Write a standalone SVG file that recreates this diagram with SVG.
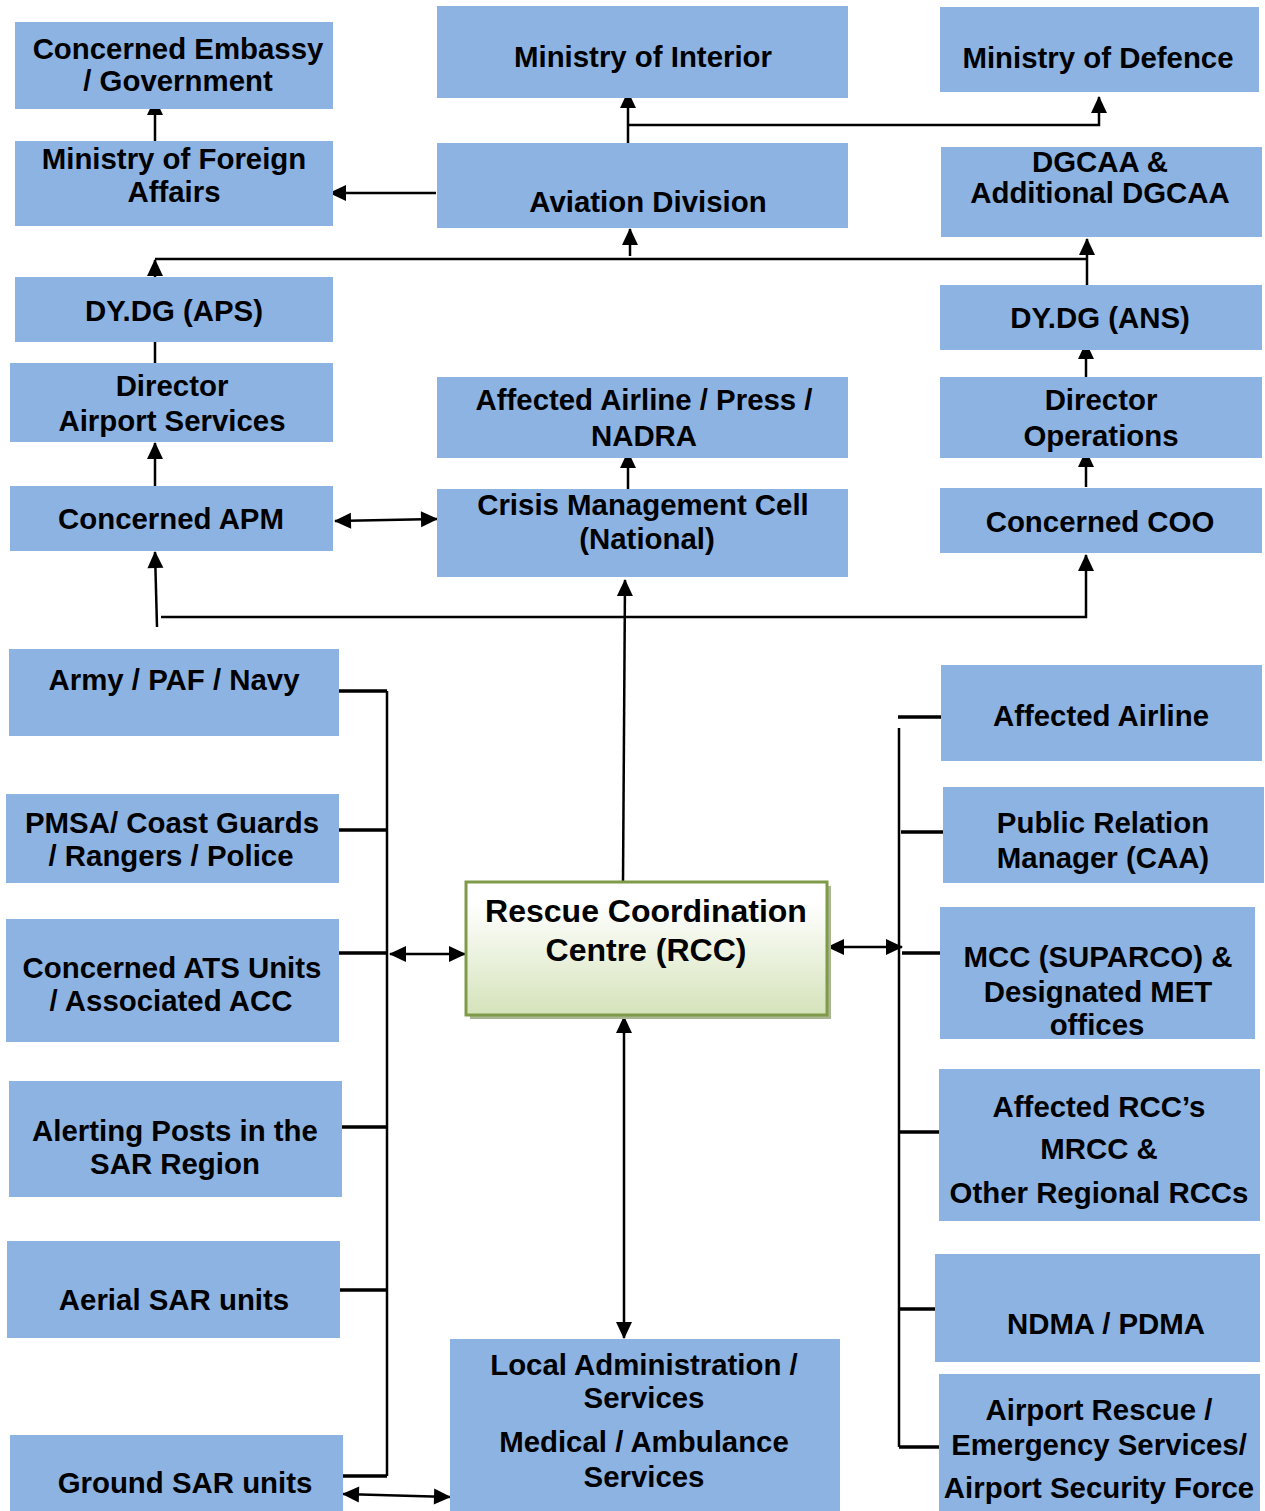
<svg xmlns="http://www.w3.org/2000/svg" width="1265" height="1511" viewBox="0 0 1265 1511">
<defs>
<style>
.b{fill:#8DB3E2;}
.t{font-family:"Liberation Sans",Arial,sans-serif;font-weight:bold;font-size:29.4px;fill:#000;text-anchor:middle;}
.rt{font-size:32px;}
.c{fill:none;stroke:#000;stroke-width:2.5;}
.s{fill:none;stroke:#000;stroke-width:3.5;}
.a{marker-end:url(#ah);}
.d{marker-start:url(#ah);marker-end:url(#ah);}
</style>
<marker id="ah" markerUnits="userSpaceOnUse" viewBox="0 0 17 16" markerWidth="17" markerHeight="16" refX="16" refY="8" orient="auto-start-reverse" overflow="visible">
<path d="M0,0 L17,8 L0,16 z" fill="#000"/>
</marker>
<linearGradient id="g" x1="0" y1="0" x2="0" y2="1">
<stop offset="0.15" stop-color="#FFFFFF"/>
<stop offset="1" stop-color="#D5E3BA"/>
</linearGradient>
</defs>
<rect width="1265" height="1511" fill="#fff"/>

<g id="connectors">
<path class="c a" d="M155,141 V99"/>
<path class="c a" d="M436,193 H330"/>
<path class="c a" d="M628,143 V92"/>
<path class="c a" d="M628,125 H1099 V97"/>
<path class="c a" d="M155,277 V260"/>
<path class="c" d="M155,259 H1087"/>
<path class="c a" d="M630,256 V229"/>
<path class="c a" d="M1087,285 V239"/>
<path class="c" d="M155,363 V342"/>
<path class="c a" d="M155,486 V443"/>
<path class="c d" d="M335,521 L437,519"/>
<path class="c a" d="M628,489 V452"/>
<path class="c a" d="M1086,487 V451"/>
<path class="c a" d="M1086,377 V343"/>
<path class="c a" d="M161,617 H1086 V555"/>
<path class="c a" d="M157,627 L155,552"/>
<path class="c a" d="M623,882 L625,580"/>
<path class="c" d="M387,691 V1476"/>
<path class="s" d="M339,691 H387 M339,830 H387 M339,953 H387 M342,1127 H387 M340,1290 H387 M343,1476 H387"/>
<path class="c d" d="M390,954 H465"/>
<path class="c d" d="M624,1017 V1338"/>
<path class="c d" d="M343,1494 L450,1497"/>
<path class="c d" d="M828,947 H902"/>
<path class="c" d="M899,728 V1447"/>
<path class="s" d="M898,717 H941 M901,832 H943 M902,953 H940 M899,1132 H939 M899,1309 H935 M899,1447 H939"/>
</g>

<g id="n-embassy"><rect class="b" x="15" y="22" width="318" height="87"/><text class="t" x="178" y="59">Concerned Embassy</text><text class="t" x="178" y="91">/ Government</text></g>
<g id="n-mofa"><rect class="b" x="15" y="141" width="318" height="85"/><text class="t" x="174" y="169">Ministry of Foreign</text><text class="t" x="174" y="202">Affairs</text></g>
<g id="n-interior"><rect class="b" x="437" y="6" width="411" height="92"/><text class="t" x="643" y="67">Ministry of Interior</text></g>
<g id="n-defence"><rect class="b" x="940" y="7" width="319" height="85"/><text class="t" x="1098" y="68">Ministry of Defence</text></g>
<g id="n-aviation"><rect class="b" x="437" y="143" width="411" height="85"/><text class="t" x="648" y="212">Aviation Division</text></g>
<g id="n-dgcaa"><rect class="b" x="941" y="147" width="321" height="90"/><text class="t" x="1100" y="172">DGCAA &amp;</text><text class="t" x="1100" y="203">Additional DGCAA</text></g>
<g id="n-dydg-aps"><rect class="b" x="15" y="277" width="318" height="65"/><text class="t" x="174" y="321">DY.DG (APS)</text></g>
<g id="n-dydg-ans"><rect class="b" x="940" y="285" width="322" height="65"/><text class="t" x="1100" y="328">DY.DG (ANS)</text></g>
<g id="n-dir-as"><rect class="b" x="10" y="363" width="323" height="79"/><text class="t" x="172" y="396">Director</text><text class="t" x="172" y="431">Airport Services</text></g>
<g id="n-press"><rect class="b" x="437" y="377" width="411" height="81"/><text class="t" x="644" y="410">Affected Airline / Press /</text><text class="t" x="644" y="446">NADRA</text></g>
<g id="n-dir-ops"><rect class="b" x="940" y="377" width="322" height="81"/><text class="t" x="1101" y="410">Director</text><text class="t" x="1101" y="446">Operations</text></g>
<g id="n-apm"><rect class="b" x="10" y="486" width="323" height="65"/><text class="t" x="171" y="529">Concerned APM</text></g>
<g id="n-cmc"><rect class="b" x="437" y="489" width="411" height="88"/><text class="t" x="643" y="515">Crisis Management Cell</text><text class="t" x="647" y="549">(National)</text></g>
<g id="n-coo"><rect class="b" x="940" y="488" width="322" height="65"/><text class="t" x="1100" y="532">Concerned COO</text></g>

<g id="n-army"><rect class="b" x="9" y="649" width="330" height="87"/><text class="t" x="174" y="690">Army / PAF / Navy</text></g>
<g id="n-pmsa"><rect class="b" x="6" y="794" width="333" height="89"/><text class="t" x="172" y="833">PMSA/ Coast Guards</text><text class="t" x="171" y="866">/ Rangers / Police</text></g>
<g id="n-ats"><rect class="b" x="6" y="919" width="333" height="123"/><text class="t" x="172" y="978">Concerned ATS Units</text><text class="t" x="171" y="1011">/ Associated ACC</text></g>
<g id="n-alerting"><rect class="b" x="9" y="1081" width="333" height="116"/><text class="t" x="175" y="1141">Alerting Posts in the</text><text class="t" x="175" y="1174">SAR Region</text></g>
<g id="n-aerial"><rect class="b" x="7" y="1241" width="333" height="97"/><text class="t" x="174" y="1310">Aerial SAR units</text></g>
<g id="n-ground"><rect class="b" x="10" y="1435" width="333" height="76"/><text class="t" x="185" y="1493">Ground SAR units</text></g>

<g id="n-rcc">
<rect x="470" y="886" width="361" height="133" fill="#A9B690"/>
<rect x="466" y="882" width="361" height="133" fill="url(#g)" stroke="#7F9B4A" stroke-width="3"/>
<text class="t rt" x="646" y="922">Rescue Coordination</text><text class="t rt" x="646" y="961">Centre (RCC)</text>
</g>
<g id="n-local"><rect class="b" x="450" y="1339" width="390" height="172"/><text class="t" x="644" y="1375">Local Administration /</text><text class="t" x="644" y="1408">Services</text><text class="t" x="644" y="1452">Medical / Ambulance</text><text class="t" x="644" y="1487">Services</text></g>

<g id="n-airline"><rect class="b" x="941" y="665" width="321" height="96"/><text class="t" x="1101" y="726">Affected Airline</text></g>
<g id="n-pr"><rect class="b" x="943" y="787" width="321" height="96"/><text class="t" x="1103" y="833">Public Relation</text><text class="t" x="1103" y="868">Manager (CAA)</text></g>
<g id="n-mcc"><rect class="b" x="940" y="907" width="315" height="132"/><text class="t" x="1098" y="967">MCC (SUPARCO) &amp;</text><text class="t" x="1098" y="1002">Designated MET</text><text class="t" x="1097" y="1035">offices</text></g>
<g id="n-rccs"><rect class="b" x="939" y="1069" width="321" height="152"/><text class="t" x="1099" y="1117">Affected RCC’s</text><text class="t" x="1099" y="1159">MRCC &amp;</text><text class="t" x="1099" y="1203">Other Regional RCCs</text></g>
<g id="n-ndma"><rect class="b" x="935" y="1254" width="325" height="108"/><text class="t" x="1106" y="1334">NDMA / PDMA</text></g>
<g id="n-arff"><rect class="b" x="939" y="1374" width="321" height="137"/><text class="t" x="1099" y="1420">Airport Rescue /</text><text class="t" x="1099" y="1455">Emergency Services/</text><text class="t" x="1099" y="1498">Airport Security Force</text></g>
</svg>
